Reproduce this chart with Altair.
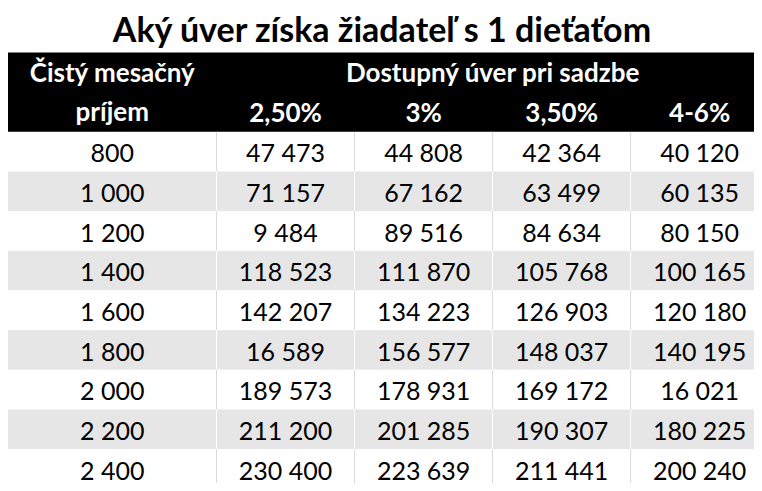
import altair as alt
import pandas as pd

# ---------------- data ----------------
title_text = "Aký úver získa žiadateľ s 1 dieťaťom"
header_income = ["Čistý mesačný", "príjem"]
header_loan = "Dostupný úver pri sadzbe"
rates = ["2,50%", "3%", "3,50%", "4-6%"]
incomes = [800, 1000, 1200, 1400, 1600, 1800, 2000, 2200, 2400]
loan_2_50 = [47473, 71157, 9484, 118523, 142207, 16589, 189573, 211200, 230400]
loan_3_00 = [44808, 67162, 89516, 111870, 134223, 156577, 178931, 201285, 223639]
loan_3_50 = [42364, 63499, 84634, 105768, 126903, 148037, 169172, 190307, 211441]
loan_4_6 = [40120, 60135, 80150, 100165, 120180, 140195, 16021, 180225, 200240]

# ---------------- layout (reference pixel units) ----------------
W, H = 762, 491
COL_EDGES = [0, 213, 354, 495, 636, 777]
TITLE_BASE = 35
HEAD_TOP, HEAD_MID, HEAD_BOTTOM = 46, 87, 128
ROW_H = 41
FONT = "Lato"
GREY = "#e7e6e6"
LINE = "#d9d9d9"


def fmt(v):
    return f"{v:,}".replace(",", " ")


columns = [incomes, loan_2_50, loan_3_00, loan_3_50, loan_4_6]

cells, texts, rules = [], [], []
for r in range(len(incomes)):
    y0 = HEAD_BOTTOM + r * ROW_H
    y1 = y0 + ROW_H
    shaded = r % 2 == 1
    for c in range(5):
        x0, x1 = COL_EDGES[c], COL_EDGES[c + 1]
        cells.append(dict(x0=x0, x1=x1, y0=y0, y1=y1, fill=GREY if shaded else "#ffffff"))
        texts.append(dict(x=(x0 + x1) / 2, y=y1 - 9.5, label=fmt(columns[c][r])))
    for c in range(1, 5):
        rules.append(dict(x=COL_EDGES[c], y0=y0, y1=y1, stroke="#ffffff" if shaded else LINE))

cells = pd.DataFrame(cells)
texts = pd.DataFrame(texts)
rules = pd.DataFrame(rules)

head_rect = pd.DataFrame([dict(x0=0, x1=W, y0=HEAD_TOP, y1=HEAD_BOTTOM)])
head_texts = [
    dict(x=(COL_EDGES[0] + COL_EDGES[1]) / 2, y=HEAD_MID - 11, label=header_income[0]),
    dict(x=(COL_EDGES[0] + COL_EDGES[1]) / 2, y=HEAD_BOTTOM - 11, label=header_income[1]),
    dict(x=(COL_EDGES[1] + COL_EDGES[5]) / 2, y=HEAD_MID - 11, label=header_loan),
]
for i, rt in enumerate(rates):
    head_texts.append(dict(x=(COL_EDGES[i + 1] + COL_EDGES[i + 2]) / 2, y=HEAD_BOTTOM - 10, label=rt))
head_texts = pd.DataFrame(head_texts)
title_df = pd.DataFrame([dict(x=W / 2 + 1, y=TITLE_BASE, label=title_text)])

xs = alt.Scale(domain=[0, W], nice=False, zero=False)
ys = alt.Scale(domain=[0, H], reverse=True, nice=False, zero=False)

bg = alt.Chart(cells).mark_rect(clip=True).encode(
    x=alt.X("x0:Q", scale=xs, axis=None), x2="x1:Q",
    y=alt.Y("y0:Q", scale=ys, axis=None), y2="y1:Q",
    color=alt.Color("fill:N", scale=None),
)
head = alt.Chart(head_rect).mark_rect(color="#000000", clip=True).encode(
    x=alt.X("x0:Q", scale=xs, axis=None), x2="x1:Q",
    y=alt.Y("y0:Q", scale=ys, axis=None), y2="y1:Q",
)
lines = alt.Chart(rules).mark_rule(strokeWidth=1, clip=True).encode(
    x=alt.X("x:Q", scale=xs, axis=None),
    y=alt.Y("y0:Q", scale=ys, axis=None), y2="y1:Q",
    color=alt.Color("stroke:N", scale=None),
)
body_text = alt.Chart(texts).mark_text(
    font=FONT, fontSize=25, color="#000000", align="center", baseline="alphabetic"
).encode(
    x=alt.X("x:Q", scale=xs, axis=None), y=alt.Y("y:Q", scale=ys, axis=None), text="label:N"
)
head_text = alt.Chart(head_texts).mark_text(
    font=FONT, fontSize=26, fontWeight="bold", color="#ffffff", align="center", baseline="alphabetic"
).encode(
    x=alt.X("x:Q", scale=xs, axis=None), y=alt.Y("y:Q", scale=ys, axis=None), text="label:N"
)
title = alt.Chart(title_df).mark_text(
    font=FONT, fontSize=34, fontWeight="bold", color="#000000", align="center", baseline="alphabetic"
).encode(
    x=alt.X("x:Q", scale=xs, axis=None), y=alt.Y("y:Q", scale=ys, axis=None), text="label:N"
)

chart = alt.layer(bg, head, lines, body_text, head_text, title).properties(
    width=746, height=475, padding=0, autosize="none", background="#ffffff"
).configure_view(stroke=None)

chart.save("out.html", embed_options={"renderer": "svg", "actions": False})
